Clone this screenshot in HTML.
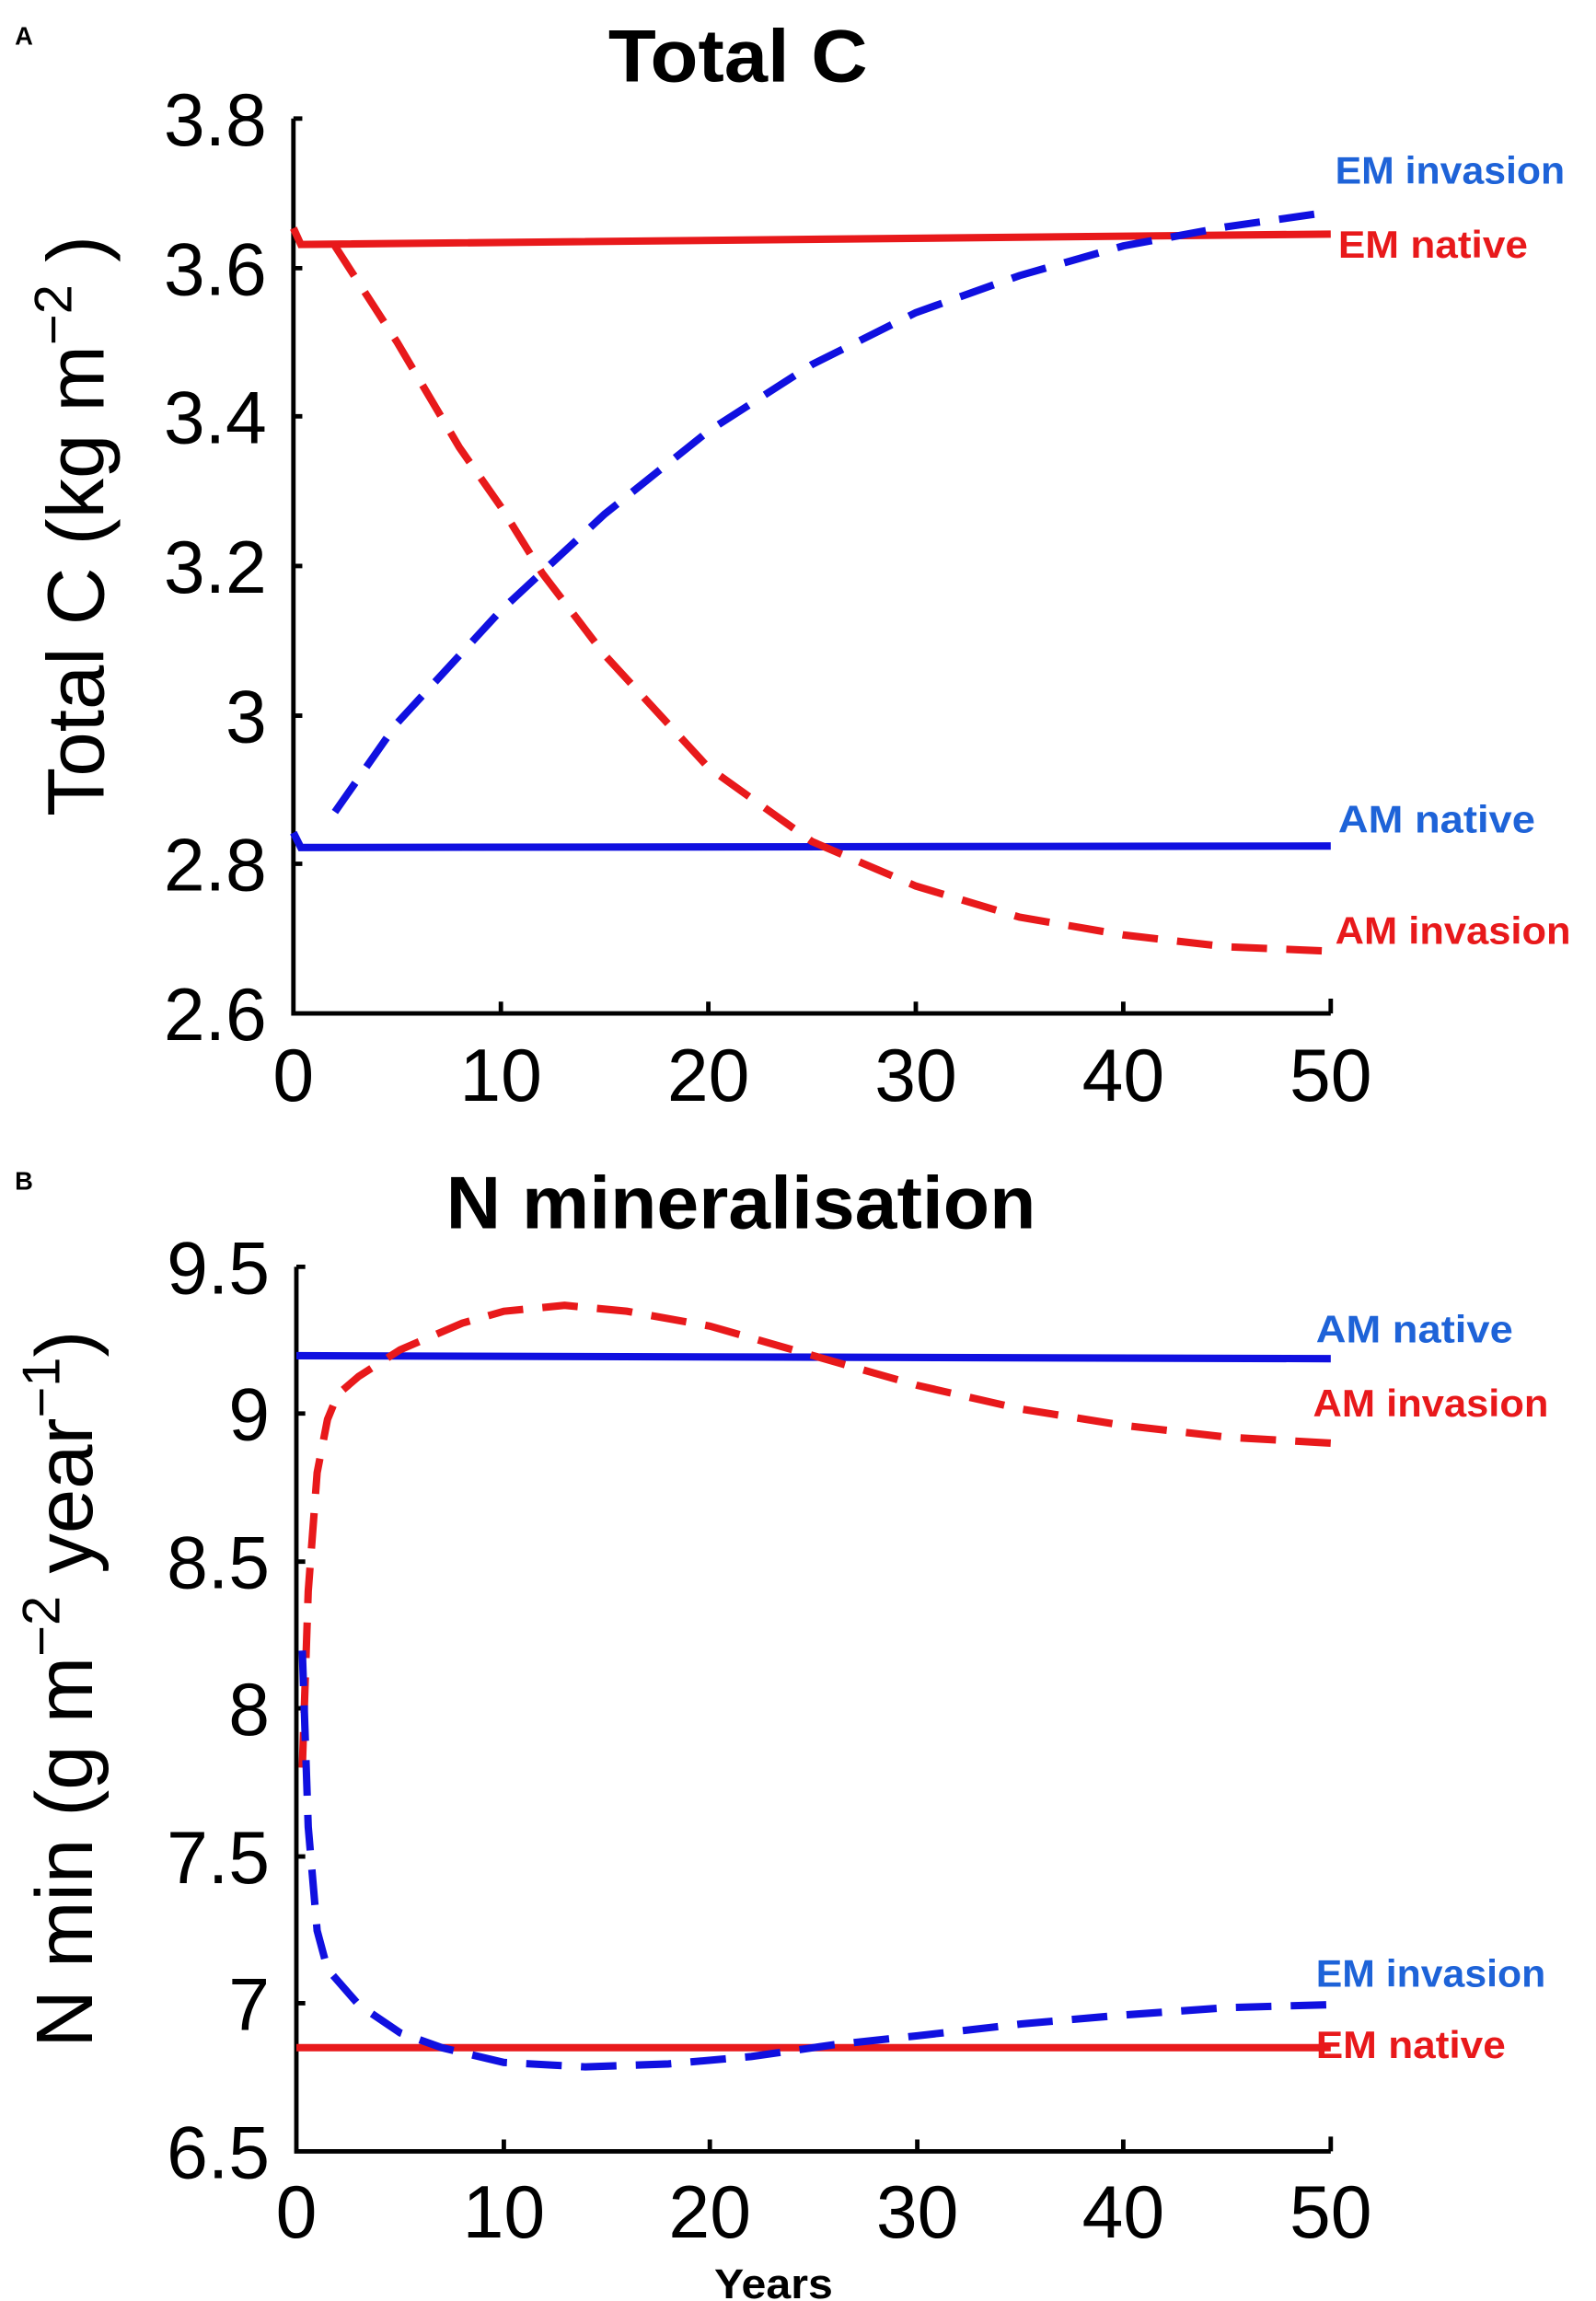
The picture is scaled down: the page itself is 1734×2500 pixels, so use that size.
<!DOCTYPE html>
<html><head><meta charset="utf-8"><style>html,body{margin:0;padding:0;background:#fff}svg{display:block}</style></head>
<body>
<svg width="1734" height="2500" viewBox="0 0 1077 1553" preserveAspectRatio="none" xmlns="http://www.w3.org/2000/svg" font-family="'Liberation Sans',sans-serif">
<rect width="1077" height="1553" fill="#fff"/>
<!-- Panel A -->
<text x="10" y="30" font-size="17" font-weight="bold">A</text>
<text x="498" y="55" font-size="50" font-weight="bold" text-anchor="middle" textLength="175" lengthAdjust="spacingAndGlyphs">Total C</text>
<g stroke="#000" stroke-width="3" fill="none">
<path d="M198,80 V684 H898"/>
<path d="M198,80 h6 M198,181 h6 M198,281 h6 M198,382 h6 M198,483 h6 M198,583 h6"/>
<path d="M338,684 v-8 M478,684 v-8 M618,684 v-8 M758,684 v-8 M898,684 v-10"/>
</g>
<g font-size="50" text-anchor="end">
<text x="180" y="98">3.8</text><text x="180" y="199">3.6</text><text x="180" y="299">3.4</text>
<text x="180" y="400">3.2</text><text x="180" y="501">3</text><text x="180" y="601">2.8</text><text x="180" y="702">2.6</text>
</g>
<g font-size="50" text-anchor="middle">
<text x="198" y="743">0</text><text x="338" y="743">10</text><text x="478" y="743">20</text><text x="618" y="743">30</text><text x="758" y="743">40</text><text x="898" y="743">50</text>
</g>
<text transform="translate(70,355) rotate(-90)" font-size="54" text-anchor="middle">Total C (kg m<tspan font-size="36" dy="-22">−2</tspan><tspan dy="22"> )</tspan></text>
<path d="M198,154 L203,165 L898,158" stroke="#e8191b" stroke-width="5" fill="none"/>
<path d="M198,562 L203,572 L898,571" stroke="#1010e0" stroke-width="5" fill="none"/>
<polyline points="226,548 268,488 338,412 408,347 478,291 548,246 618,211 688,186 758,166 828,153 898,143" stroke="#1010e0" stroke-width="5" fill="none" stroke-dasharray="24,13"/>
<polyline points="226,166 268,231 310,302 338,342 366,387 408,442 478,518 548,568 618,598 688,619 758,631 828,639 898,642" stroke="#e8191b" stroke-width="5" fill="none" stroke-dasharray="24,13"/>
<g font-size="26" font-weight="bold">
<text x="901" y="124" fill="#1e63d8" textLength="155" lengthAdjust="spacingAndGlyphs">EM invasion</text>
<text x="903" y="174" fill="#e8191b" textLength="128" lengthAdjust="spacingAndGlyphs">EM native</text>
<text x="903" y="562" fill="#1e63d8" textLength="133" lengthAdjust="spacingAndGlyphs">AM native</text>
<text x="901" y="637" fill="#e8191b" textLength="159" lengthAdjust="spacingAndGlyphs">AM invasion</text>
</g>
<!-- Panel B -->
<text x="10" y="803" font-size="17" font-weight="bold">B</text>
<text x="500" y="829" font-size="50" font-weight="bold" text-anchor="middle" textLength="398" lengthAdjust="spacingAndGlyphs">N mineralisation</text>
<g stroke="#000" stroke-width="3" fill="none">
<path d="M200,855 V1452 H898"/>
<path d="M200,855 h6 M200,954 h6 M200,1054 h6 M200,1153 h6 M200,1253 h6 M200,1352 h6"/>
<path d="M340,1452 v-8 M479,1452 v-8 M619,1452 v-8 M758,1452 v-8 M898,1452 v-10"/>
</g>
<g font-size="50" text-anchor="end">
<text x="182" y="873">9.5</text><text x="182" y="972">9</text><text x="182" y="1072">8.5</text>
<text x="182" y="1171">8</text><text x="182" y="1271">7.5</text><text x="182" y="1370">7</text><text x="182" y="1470">6.5</text>
</g>
<g font-size="50" text-anchor="middle">
<text x="200" y="1510">0</text><text x="340" y="1510">10</text><text x="479" y="1510">20</text><text x="619" y="1510">30</text><text x="758" y="1510">40</text><text x="898" y="1510">50</text>
</g>
<text x="522" y="1551" font-size="28" font-weight="bold" text-anchor="middle" textLength="80" lengthAdjust="spacingAndGlyphs">Years</text>
<text transform="translate(62,1140) rotate(-90)" font-size="54" text-anchor="middle">N min (g m<tspan font-size="36" dy="-22">−2</tspan><tspan dy="22"> year</tspan><tspan font-size="36" dy="-22">−1</tspan><tspan dy="22">)</tspan></text>
<path d="M200,915 L898,917" stroke="#1010e0" stroke-width="5" fill="none"/>
<path d="M200,1382 L898,1382" stroke="#e8191b" stroke-width="5" fill="none"/>
<polyline points="204,1193 208,1074 214,994 221,958 228,941 242,929 270,911 312,893 340,885 381,881 423,885 479,895 549,915 619,935 689,951 758,962 828,970 898,974" stroke="#e8191b" stroke-width="5" fill="none" stroke-dasharray="24,13"/>
<polyline points="204,1114 208,1233 214,1303 221,1329 242,1353 270,1372 298,1382 340,1392 395,1395 451,1393 507,1388 563,1380 619,1374 689,1366 758,1360 828,1355 898,1353" stroke="#1010e0" stroke-width="5" fill="none" stroke-dasharray="24,13"/>
<g font-size="26" font-weight="bold">
<text x="888" y="906" fill="#1e63d8" textLength="133" lengthAdjust="spacingAndGlyphs">AM native</text>
<text x="886" y="956" fill="#e8191b" textLength="159" lengthAdjust="spacingAndGlyphs">AM invasion</text>
<text x="888" y="1341" fill="#1e63d8" textLength="155" lengthAdjust="spacingAndGlyphs">EM invasion</text>
<text x="888" y="1389" fill="#e8191b" textLength="128" lengthAdjust="spacingAndGlyphs">EM native</text>
</g>
</svg>
</body></html>
